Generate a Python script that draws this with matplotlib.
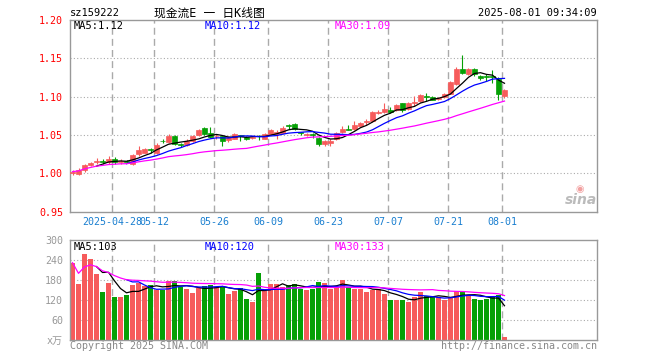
import matplotlib
matplotlib.use('Agg')
import matplotlib.pyplot as plt
import numpy as np
import pandas as pd

plt.rcParams['font.family'] = ['DejaVu Sans Mono', 'Noto Sans CJK SC']

# trading days 2025-04-17 .. 2025-08-01 (holidays removed)
holidays = ['2025-05-01', '2025-05-02', '2025-05-05', '2025-06-02']
dates = [d.strftime('%Y-%m-%d') for d in pd.bdate_range('2025-04-17', '2025-08-01')
         if d.strftime('%Y-%m-%d') not in holidays]

opens = [1.000, 0.999, 1.004, 1.011, 1.015, 1.016, 1.014, 1.018, 1.014, 1.016,
         1.012, 1.025, 1.027, 1.031, 1.027, 1.0425, 1.041, 1.049, 1.0375, 1.037,
         1.042, 1.050, 1.059, 1.052, 1.048, 1.048, 1.043, 1.045, 1.050, 1.047,
         1.046, 1.049, 1.045, 1.051, 1.051, 1.053, 1.063, 1.064, 1.054, 1.050,
         1.051, 1.046, 1.038, 1.040, 1.045, 1.054, 1.058, 1.058, 1.062, 1.067,
         1.068, 1.079, 1.080, 1.083, 1.082, 1.091, 1.084, 1.091, 1.094, 1.101,
         1.0995, 1.097, 1.099, 1.104, 1.117, 1.136, 1.129, 1.136, 1.127, 1.127,
         1.127, 1.123, 1.101]
closes = [1.002, 1.004, 1.011, 1.013, 1.016, 1.015, 1.018, 1.015, 1.016, 1.014,
          1.024, 1.030, 1.031, 1.030, 1.037, 1.042, 1.049, 1.038, 1.037, 1.0425,
          1.049, 1.057, 1.051, 1.047, 1.049, 1.042, 1.047, 1.051, 1.049, 1.045,
          1.047, 1.048, 1.051, 1.057, 1.054, 1.059, 1.062, 1.058, 1.053, 1.051,
          1.050, 1.038, 1.042, 1.042, 1.053, 1.058, 1.057, 1.063, 1.066, 1.068,
          1.080, 1.080, 1.084, 1.080, 1.089, 1.082, 1.092, 1.093, 1.102, 1.100,
          1.096, 1.098, 1.104, 1.119, 1.136, 1.131, 1.136, 1.129, 1.124, 1.125,
          1.126, 1.104, 1.108]
highs = [1.004, 1.007, 1.012, 1.015, 1.020, 1.019, 1.022, 1.021, 1.018, 1.017,
         1.025, 1.035, 1.033, 1.033, 1.039, 1.045, 1.051, 1.050, 1.039, 1.044,
         1.050, 1.058, 1.060, 1.060, 1.051, 1.049, 1.048, 1.053, 1.050, 1.048,
         1.049, 1.050, 1.052, 1.058, 1.057, 1.062, 1.064, 1.065, 1.054, 1.052,
         1.052, 1.047, 1.043, 1.044, 1.054, 1.061, 1.063, 1.068, 1.067, 1.071,
         1.081, 1.082, 1.092, 1.087, 1.090, 1.092, 1.093, 1.101, 1.103, 1.105,
         1.101, 1.099, 1.105, 1.120, 1.139, 1.154, 1.137, 1.137, 1.128, 1.129,
         1.135, 1.125, 1.110]
lows = [0.998, 0.997, 1.001, 1.009, 1.012, 1.012, 1.012, 1.012, 1.012, 1.013,
        1.011, 1.023, 1.026, 1.026, 1.025, 1.039, 1.039, 1.037, 1.034, 1.036,
        1.041, 1.049, 1.050, 1.046, 1.045, 1.036, 1.041, 1.044, 1.042, 1.043,
        1.045, 1.043, 1.044, 1.050, 1.045, 1.052, 1.058, 1.057, 1.050, 1.049,
        1.046, 1.036, 1.036, 1.036, 1.043, 1.052, 1.056, 1.056, 1.061, 1.063,
        1.067, 1.077, 1.078, 1.078, 1.081, 1.080, 1.082, 1.088, 1.093, 1.094,
        1.095, 1.096, 1.098, 1.103, 1.115, 1.129, 1.128, 1.127, 1.122, 1.121,
        1.118, 1.096, 1.098]
# volume, unit 10k (万)
volumes = [232, 168, 258, 244, 199, 144, 171, 129, 129, 135,
           165, 171, 163, 165, 149, 149, 177, 177, 159, 153,
           141, 157, 163, 165, 159, 159, 138, 147, 157, 123,
           114, 201, 147, 168, 168, 159, 165, 167, 154, 150,
           154, 174, 171, 154, 160, 180, 160, 154, 154, 144,
           151, 154, 138, 120, 120, 120, 114, 129, 144, 132,
           129, 129, 120, 129, 147, 147, 134, 123, 120, 123,
           129, 134, 8]

tick_dates = ['2025-04-28', '2025-05-12', '2025-05-26', '2025-06-09',
              '2025-06-23', '2025-07-07', '2025-07-21', '2025-08-01']
tick_labels = ['2025-04-28', '05-12', '05-26', '06-09', '06-23', '07-07', '07-21', '08-01']
price_ticks = [0.95, 1.00, 1.05, 1.10, 1.15, 1.20]
vol_ticks = [0, 60, 120, 180, 240, 300]
vol_tick_labels = ['x万', '60', '120', '180', '240', '300']
price_ma_text = ['MA5:1.12', 'MA10:1.12', 'MA30:1.09']
vol_ma_text = ['MA5:103', 'MA10:120', 'MA30:133']

RED = '#f65b5b'
GREEN = '#05a005'
GRID = '#aaaaaa'
MA_COLORS = ['black', '#0000ff', '#ff00ff']

W, H = 660, 360
fig = plt.figure(figsize=(W / 100, H / 100), dpi=100)


def px_axes(l, t, r, b):
    return fig.add_axes([l / W, 1 - b / H, (r - l) / W, (b - t) / H])


x = np.arange(len(dates))
o = np.array(opens); c = np.array(closes)
up = c >= o
cols = [RED if u else GREEN for u in up]
tick_pos = [dates.index(d) - 0.4 for d in tick_dates]
xlim = ((70 - 72.5) / 6, (597 - 72.5) / 6)

close_s = pd.Series(closes)
vol_s = pd.Series(volumes)
price_ma = [close_s.rolling(5).mean(), close_s.rolling(10).mean(),
            close_s.rolling(30, min_periods=1).mean()]
vol_ma = [vol_s.rolling(5).mean(), vol_s.rolling(10).mean(),
          vol_s.rolling(30, min_periods=1).mean()]

# ---- price panel
ax = px_axes(70, 20, 597, 211.5)
for p in price_ticks[1:-1]:
    ax.axhline(p, color=GRID, lw=0.8, ls=(0, (1, 2)), zorder=0)
for tp in tick_pos:
    ax.axvline(tp, color=GRID, lw=1.0, ls=(0, (5, 3)), zorder=0)
ax.vlines(x, lows, highs, colors=cols, lw=0.8, zorder=2)
ax.bar(x, np.maximum(np.abs(c - o), 0.0006), bottom=np.minimum(o, c), width=0.72,
       color=cols, edgecolor=cols, lw=0.5, zorder=3)
for ma, col in zip(price_ma, MA_COLORS):
    ax.plot(x, ma, color=col, lw=0.9, zorder=4)
ax.set_xlim(*xlim)
ax.set_ylim(0.95, 1.20)
ax.set_yticks(price_ticks)
ax.set_yticklabels(['%.2f' % p for p in price_ticks])
ax.tick_params(axis='y', length=0, pad=5, labelcolor='red', labelsize=7.2)
ax.set_xticks(tick_pos)
ax.set_xticklabels(tick_labels)
ax.tick_params(axis='x', length=0, pad=4, labelcolor='#1a7fd0', labelsize=7.2)
for s in ax.spines.values():
    s.set_color('#999999')
    s.set_linewidth(1.0)

# ---- volume panel
av = px_axes(70, 240, 597, 340)
for v in vol_ticks[1:-1]:
    av.axhline(v, color=GRID, lw=0.8, ls=(0, (1, 2)), zorder=0)
for tp in tick_pos:
    av.axvline(tp, color=GRID, lw=1.0, ls=(0, (5, 3)), zorder=0)
av.bar(x, volumes, width=0.8, color=cols, lw=0, zorder=2)
for ma, col in zip(vol_ma, MA_COLORS):
    av.plot(x, ma, color=col, lw=0.9, zorder=4)
av.set_xlim(*xlim)
av.set_ylim(0, 300)
av.set_yticks(vol_ticks)
av.set_yticklabels(vol_tick_labels)
av.tick_params(axis='y', length=0, pad=5, labelcolor='#999999', labelsize=7.2)
av.set_xticks([])
for s in av.spines.values():
    s.set_color('#999999')
    s.set_linewidth(1.0)

# ---- texts
def ftext(px, py, s, **kw):
    fig.text(px / W, 1 - py / H, s, va='center', **kw)

ftext(70, 13, 'sz159222', fontsize=7.5, color='black')
ftext(209, 13, '现金流E 一 日K线图', fontsize=8.5, color='black', ha='center')
ftext(597, 13, '2025-08-01 09:34:09', fontsize=7.5, color='black', ha='right')
for px_, s, col in zip([74, 205, 335], price_ma_text, MA_COLORS):
    ftext(px_, 26, s, fontsize=7.5, color=col)
for px_, s, col in zip([74, 205, 335], vol_ma_text, MA_COLORS):
    ftext(px_, 247, s, fontsize=7.5, color=col)
ftext(70, 346, 'Copyright 2025 SINA.COM', fontsize=7.2, color='#888888')
ftext(597, 346, 'http://finance.sina.com.cn', fontsize=7.2, color='#888888', ha='right')

# sina watermark
fig.text(581 / W, 1 - 200 / H, 'sina', fontsize=10, color='#bbbbbb', style='italic',
         weight='bold', family='DejaVu Sans', ha='center', va='center')
fig.text(580 / W, 1 - 189 / H, '◉', fontsize=7, color='#f2a0a0', family='DejaVu Sans',
         ha='center', va='center')

fig.savefig('out.png', dpi=100)
